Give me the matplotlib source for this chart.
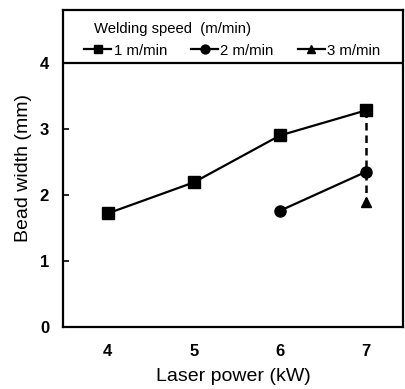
import matplotlib
matplotlib.use("Agg")
import matplotlib.pyplot as plt

plt.rcParams['font.family'] = ['Liberation Sans', 'DejaVu Sans']

# bead width data
power_1 = [4, 5, 6, 7]
width_1 = [1.72, 2.19, 2.90, 3.28]
power_2 = [6, 7]
width_2 = [1.76, 2.35]
power_3 = [7]
width_3 = [1.90]
y_ticks = [0, 1, 2, 3, 4]
x_ticks = [4, 5, 6, 7]

fig = plt.figure(figsize=(4.05, 3.89), dpi=100)
ax = fig.add_axes([63/405, 1 - 327/389, (403 - 63)/405, (327 - 10)/389])

ax.plot(power_1, width_1, color='black', marker='s', markersize=8, lw=1.6, label='1 m/min')
ax.plot(power_2, width_2, color='black', marker='o', markersize=8, lw=1.6, label='2 m/min')
ax.plot(power_3, width_3, color='black', marker='^', markersize=7, lw=1.6, label='3 m/min')
# dashed link between the three speeds at 7 kW
ax.plot([power_1[-1], power_3[-1]], [width_1[-1], width_3[-1]], color='black', ls=(0, (3, 2)), lw=1.8, zorder=1)

ax.axhline(4, color='black', lw=1.6)
ax.set_xlim(3.48, 7.43)
ax.set_ylim(0, 4.8)
ax.set_xticks(x_ticks)
ax.set_yticks(y_ticks)
ax.tick_params(direction='in', length=4, width=1.2, labelsize=12)
ax.tick_params(axis='y', pad=10)
for lab in ax.get_xticklabels() + ax.get_yticklabels():
    lab.set_fontweight('bold')
ax.tick_params(axis='x', length=0, pad=12)
for s in ax.spines.values():
    s.set_linewidth(1.6)

ax.set_xlabel('Laser power (kW)', fontsize=14, labelpad=7)
ax.set_ylabel('Bead width (mm)', fontsize=14, labelpad=6)

ax.text(0.09, 0.94, 'Welding speed  (m/min)', transform=ax.transAxes, fontsize=10.7, va='center')
leg = ax.legend(loc='center left', bbox_to_anchor=(0.063, 0.872), ncol=3, frameon=False,
                fontsize=10.8, handlelength=1.8, handletextpad=0.15, columnspacing=1.6,
                borderaxespad=0, borderpad=0, markerscale=0.8)

fig.savefig('out.png', dpi=100)
